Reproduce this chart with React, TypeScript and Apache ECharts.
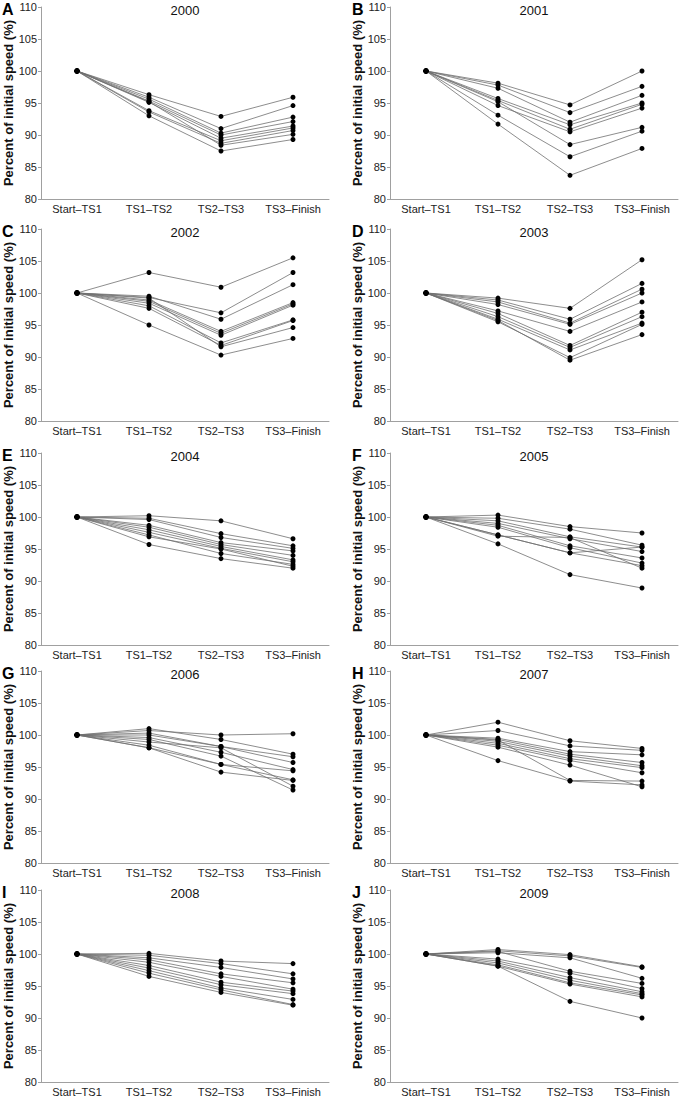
import React, { useEffect, useRef } from "react";
import * as echarts from "echarts";

const categories = ["Start\u2013TS1", "TS1\u2013TS2", "TS2\u2013TS3", "TS3\u2013Finish"];
const yTicks = { min: 80, max: 110, interval: 5 };
const years = ["2000", "2001", "2002", "2003", "2004", "2005", "2006", "2007", "2008", "2009"];
const letters = ["A", "B", "C", "D", "E", "F", "G", "H", "I", "J"];

const y2000 = [
  [100, 96.3, 92.9, 95.9],
  [100, 95.9, 91.0, 94.6],
  [100, 95.6, 90.3, 92.8],
  [100, 95.3, 90.0, 92.1],
  [100, 95.1, 89.5, 91.4],
  [100, 93.8, 89.1, 91.1],
  [100, 93.6, 88.7, 90.7],
  [100, 95.2, 88.4, 90.1],
  [100, 93.0, 87.5, 89.3],
];
const y2001 = [
  [100, 98.1, 94.7, 100.0],
  [100, 97.8, 93.5, 97.6],
  [100, 97.3, 92.0, 96.2],
  [100, 95.7, 91.6, 95.0],
  [100, 95.4, 90.9, 94.8],
  [100, 94.6, 90.5, 94.2],
  [100, 95.2, 88.5, 91.2],
  [100, 93.1, 86.6, 90.6],
  [100, 91.7, 83.7, 87.9],
];
const y2002 = [
  [100, 103.2, 100.9, 105.5],
  [100, 99.3, 96.9, 103.2],
  [100, 99.5, 95.9, 101.3],
  [100, 98.9, 94.0, 98.5],
  [100, 98.7, 93.7, 98.3],
  [100, 98.4, 93.4, 98.1],
  [100, 98.0, 92.2, 95.8],
  [100, 97.6, 91.8, 95.7],
  [100, 99.2, 91.6, 94.6],
  [100, 95.0, 90.3, 92.9],
];
const y2003 = [
  [100, 99.2, 97.6, 105.2],
  [100, 98.9, 95.9, 101.5],
  [100, 98.6, 95.3, 100.6],
  [100, 98.2, 95.1, 100.0],
  [100, 97.2, 94.0, 98.6],
  [100, 96.8, 91.8, 97.0],
  [100, 96.3, 91.5, 96.3],
  [100, 95.9, 91.1, 95.3],
  [100, 95.5, 89.9, 95.1],
  [100, 95.7, 89.5, 93.5],
];
const y2004 = [
  [100, 100.2, 99.4, 96.6],
  [100, 99.8, 97.4, 95.5],
  [100, 99.6, 96.8, 95.1],
  [100, 98.7, 96.0, 94.7],
  [100, 98.4, 95.7, 94.0],
  [100, 98.0, 95.4, 93.3],
  [100, 97.6, 95.1, 93.0],
  [100, 97.2, 94.3, 92.6],
  [100, 96.9, 95.0, 92.3],
  [100, 95.7, 93.5, 92.0],
];
const y2005 = [
  [100, 100.3, 98.5, 97.5],
  [100, 99.8, 98.1, 95.6],
  [100, 99.4, 96.9, 95.3],
  [100, 99.0, 96.6, 94.6],
  [100, 98.7, 95.5, 93.6],
  [100, 98.4, 95.2, 92.8],
  [100, 97.2, 94.4, 92.4],
  [100, 97.0, 96.8, 92.0],
  [100, 97.2, 94.4, 95.3],
  [100, 95.8, 91.0, 88.9],
];
const y2006 = [
  [100, 100.7, 100.0, 100.2],
  [100, 101.0, 99.3, 97.0],
  [100, 100.3, 98.2, 96.6],
  [100, 100.0, 98.2, 95.7],
  [100, 99.6, 97.3, 94.6],
  [100, 99.3, 96.7, 91.4],
  [100, 98.9, 98.0, 92.0],
  [100, 98.4, 95.4, 94.4],
  [100, 98.0, 95.4, 93.0],
  [100, 98.0, 94.2, 92.9],
];
const y2007 = [
  [100, 102.0, 99.1, 97.9],
  [100, 100.7, 98.3, 97.6],
  [100, 99.5, 97.4, 96.9],
  [100, 99.3, 97.0, 95.7],
  [100, 99.0, 96.7, 95.2],
  [100, 98.7, 96.3, 94.9],
  [100, 98.4, 96.0, 94.1],
  [100, 98.1, 95.3, 91.9],
  [100, 99.2, 92.9, 92.8],
  [100, 96.0, 92.8, 92.2],
];
const y2008 = [
  [100, 100.1, 98.9, 98.5],
  [100, 99.8, 98.5, 96.9],
  [100, 99.4, 97.9, 96.1],
  [100, 99.1, 96.9, 95.5],
  [100, 98.7, 96.5, 94.5],
  [100, 98.2, 95.6, 94.2],
  [100, 97.8, 95.2, 93.8],
  [100, 97.4, 94.7, 92.9],
  [100, 97.0, 94.4, 92.1],
  [100, 96.5, 94.0, 92.0],
];
const y2009 = [
  [100, 100.7, 99.9, 98.0],
  [100, 100.5, 99.7, 97.9],
  [100, 100.2, 99.4, 96.2],
  [100, 100.4, 97.3, 95.4],
  [100, 99.2, 97.0, 94.6],
  [100, 98.9, 96.3, 94.1],
  [100, 98.6, 95.9, 93.8],
  [100, 98.3, 95.5, 93.6],
  [100, 98.1, 95.3, 93.3],
  [100, 98.1, 92.6, 90.0],
];

const panelData = [y2000, y2001, y2002, y2003, y2004, y2005, y2006, y2007, y2008, y2009];

const FONT = "'Liberation Sans', Arial, Helvetica, sans-serif";
const colLeft = [41, 390];
const rowTop = [7, 229, 453, 671, 890];
const gridW = 288;
const gridH = 192;

export default function App() {
  const ref = useRef<HTMLDivElement>(null);
  useEffect(() => {
    if (!ref.current) return;
    const chart = echarts.init(ref.current, undefined, { renderer: "svg" });
    const grids: any[] = [];
    const xAxes: any[] = [];
    const yAxes: any[] = [];
    const series: any[] = [];
    const titles: any[] = [];
    const graphics: any[] = [];
    panelData.forEach((lines, i) => {
      const col = i % 2;
      const row = Math.floor(i / 2);
      const left = colLeft[col];
      const top = rowTop[row];
      grids.push({ left, top, width: gridW, height: gridH, containLabel: false });
      xAxes.push({
        type: "category",
        gridIndex: i,
        data: categories,
        boundaryGap: true,
        axisLine: { lineStyle: { color: "#a0a0a0", width: 1 } },
        axisTick: { alignWithLabel: true, length: 3, lineStyle: { color: "#c8c8c8" } },
        axisLabel: { interval: 0, fontFamily: FONT, fontSize: 11, color: "#222", margin: 4 },
      });
      yAxes.push({
        type: "value",
        gridIndex: i,
        min: yTicks.min,
        max: yTicks.max,
        interval: yTicks.interval,
        splitLine: { show: false },
        axisLine: { show: true, lineStyle: { color: "#a0a0a0", width: 1 } },
        axisTick: { show: true, length: 3, lineStyle: { color: "#a0a0a0" } },
        axisLabel: { fontFamily: FONT, fontSize: 11, color: "#222", margin: 4 },
        name: "Percent of initial speed (%)",
        nameLocation: "middle",
        nameRotate: 90,
        nameGap: 26,
        nameTextStyle: { fontFamily: FONT, fontSize: 13, fontWeight: "bold", color: "#111" },
      });
      titles.push({
        text: years[i],
        left: left + gridW / 2,
        top: Math.max(top - 3, 0),
        textAlign: "center",
        textStyle: { fontFamily: FONT, fontSize: 13, fontWeight: "normal", color: "#111" },
        padding: 0,
      });
      graphics.push({
        type: "text",
        left: col === 0 ? 2 : 352,
        top: Math.max(top - 6, 1),
        style: { text: letters[i], font: `bold 16px ${FONT}`, fill: "#000" },
      });
      lines.forEach((vals) => {
        series.push({
          type: "line",
          xAxisIndex: i,
          yAxisIndex: i,
          data: vals,
          symbol: "circle",
          symbolSize: 5,
          itemStyle: { color: "#000" },
          lineStyle: { color: "#707070", width: 0.8 },
          emphasis: { disabled: true },
          silent: true,
        });
      });
    });
    chart.setOption({
      animation: false,
      backgroundColor: "#fff",
      title: titles,
      grid: grids,
      xAxis: xAxes,
      yAxis: yAxes,
      series,
      graphic: graphics,
    });
    return () => chart.dispose();
  }, []);
  return (
    <div
      ref={ref}
      style={{ position: "fixed", left: 0, top: 0, width: 682, height: 1098, background: "#fff" }}
    />
  );
}
